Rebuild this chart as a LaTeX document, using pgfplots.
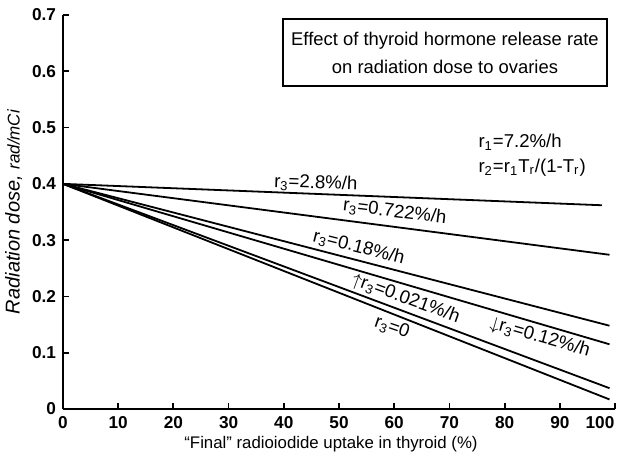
\documentclass[border=0pt]{standalone}
\usepackage{fontspec}
\setmainfont{Liberation Sans}
\usepackage{pgfplots}
\pgfplotsset{compat=1.18}

\begin{document}
\begin{tikzpicture}
\begin{axis}[
  scale only axis, width=276pt, height=197pt,
  xmin=0, xmax=100, ymin=0, ymax=0.7,
  axis lines*=left, axis line style={line width=1.2pt},
  tick align=inside, major tick length=3pt,
  tick style={line width=0.9pt, black},
  xtick={0,10,...,90},
  extra x ticks={100}, extra x tick labels={100},
  extra x tick style={xticklabel style={xshift=-7.5pt}},
  ytick={0,0.1,0.2,0.3,0.4,0.5,0.6,0.7},
  yticklabels={0,0.1,0.2,0.3,0.4,0.5,0.6,0.7},
  /pgf/number format/assume math mode=true,
  ticklabel style={font=\bfseries\fontsize{8.6}{9}\selectfont},
  xlabel={“Final” radioiodide uptake in thyroid (\%)},
  ylabel={\itshape Radiation dose, {\fontsize{8.5}{9}\selectfont rad/mCi}},
  xlabel style={font=\fontsize{8.4}{9}\selectfont, yshift=3pt, xshift=-4pt},
  ylabel style={font=\fontsize{10}{11}\selectfont, yshift=-2pt},
  clip=false,
]
% lines all start at 0.4 rad/mCi
\addplot[black, line width=0.9pt] coordinates {(0,0.400)(97.6,0.362)}; % r3=2.8
\addplot[black, line width=0.9pt] coordinates {(0,0.400)(99,0.274)};   % r3=0.722
\addplot[black, line width=0.9pt] coordinates {(0,0.400)(99,0.148)};   % r3=0.18
\addplot[black, line width=0.9pt] coordinates {(0,0.400)(99,0.115)};   % r3=0.12
\addplot[black, line width=0.9pt] coordinates {(0,0.400)(99,0.037)};   % r3=0.021
\addplot[black, line width=0.9pt] coordinates {(0,0.400)(99,0.017)};   % r3=0

\begin{scope}[every node/.style={font=\fontsize{9.3}{10}\selectfont, inner sep=0pt}]
\node[rotate=-2]  at (axis cs:45.8,0.401) {r\textsubscript{3}=2.8\%/h};
\node[rotate=-7]  at (axis cs:60.1,0.350) {r\textsubscript{3}=0.722\%/h};
\node[rotate=-14] at (axis cs:53.6,0.287) {r\textsubscript{3}=0.18\%/h};
\node[rotate=-20] at (axis cs:62.1,0.196) {$\uparrow$r\textsubscript{3}=0.021\%/h};
\node[rotate=-16] at (axis cs:86.4,0.127) {$\downarrow$r\textsubscript{3}=0.12\%/h};
\node[rotate=-19] at (axis cs:59.6,0.145) {r\textsubscript{3}=0};
\node[anchor=west] at (axis cs:75.2,0.474) {r\textsubscript{1}=7.2\%/h};
\node[anchor=west] at (axis cs:75.2,0.428) {r\textsubscript{2}=r\textsubscript{1}T\textsubscript{r}/(1-T\textsubscript{r})};
\end{scope}

\node[draw, line width=0.9pt, minimum width=162pt, minimum height=33.5pt,
      align=center, font=\fontsize{9.2}{14}\selectfont]
  at (axis cs:69.2,0.633)
  {Effect of thyroid hormone release rate\\on radiation dose to ovaries};

\coordinate (bbll) at (rel axis cs:-0.1141,-0.1117);
\coordinate (bbur) at (rel axis cs:1.0036,1.0381);
\end{axis}
\pgfresetboundingbox
\useasboundingbox (bbll) rectangle (bbur);
\end{tikzpicture}
\end{document}
